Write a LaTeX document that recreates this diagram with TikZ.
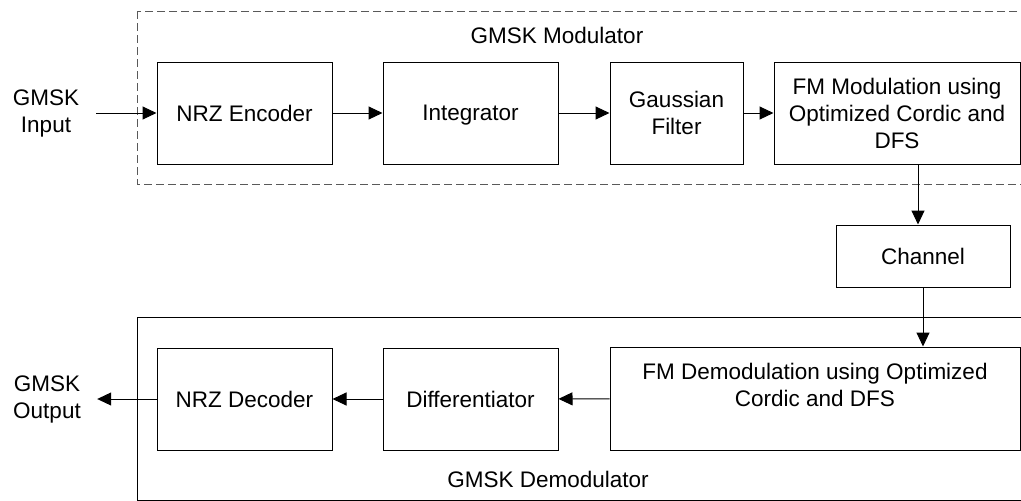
\documentclass[tikz,border=0pt]{standalone}
\usepackage{fontspec}
\setmainfont{Liberation Sans}
\usetikzlibrary{arrows.meta}
\begin{document}
\begin{tikzpicture}[x=1pt,y=-1pt,
  blk/.style={draw, line width=1pt, align=center, inner sep=0pt},
  lbl/.style={align=center, minimum width=100pt, inner sep=0pt},
  arr/.style={-{Triangle[length=14pt,width=13pt]}, line width=1pt},
  font=\fontsize{22.5}{27}\selectfont]
\clip (0,0) rectangle (1021,501);
\fill[white] (0,0) rectangle (1021,501);
% modulator and demodulator frames
\draw[line width=1pt, black!65, dash pattern=on 8pt off 4pt] (137,11) rectangle (1040,184);
\node (modtitle) at (557,35) {GMSK Modulator};
\draw[line width=1pt] (137,317) rectangle (1040,500);
\node (demtitle) at (548,479) {GMSK Demodulator};
% modulator
\node[lbl] (in) at (46,113) {GMSK\\Input};
\node[blk, minimum width=175pt, minimum height=102pt] (enc) at (244.5,113) {NRZ Encoder};
\node[blk, minimum width=175pt, minimum height=102pt, text depth=0pt] (integ) at (470.5,113) {Integrator};
\node[blk, minimum width=133pt, minimum height=102pt] (gauss) at (676.5,113) {Gaussian\\Filter};
\node[blk, minimum width=246pt, minimum height=102pt] (fmmod) at (897,113) {FM Modulation using\\Optimized Cordic and\\DFS};
\draw[arr] (in) -- (enc);
\draw[arr] (enc) -- (integ);
\draw[arr] (integ) -- (gauss);
\draw[arr] (gauss) -- (fmmod);
% channel
\node[blk, minimum width=174pt, minimum height=62pt] (chan) at (923,256) {Channel};
\draw[arr] ([xshift=-5pt]fmmod.south -| chan.north) -- ([xshift=-5pt]chan.north);
% demodulator
\node[blk, minimum width=410pt, minimum height=103pt, text depth=0pt] (fmdem) at (815,398.5) {FM Demodulation using Optimized\\Cordic and DFS\\\strut};
\node[blk, minimum width=175pt, minimum height=102pt] (diff) at (470.5,399) {Differentiator};
\node[blk, minimum width=175pt, minimum height=102pt] (dec) at (244.5,399) {NRZ Decoder};
\node[lbl] (out) at (47,399) {GMSK\\Output};
\draw[arr] (chan.south) -- (chan.south |- fmdem.north);
\draw[arr] (fmdem) -- (diff);
\draw[arr] (diff) -- (dec);
\draw[arr] (dec) -- (out);
\end{tikzpicture}
\end{document}
